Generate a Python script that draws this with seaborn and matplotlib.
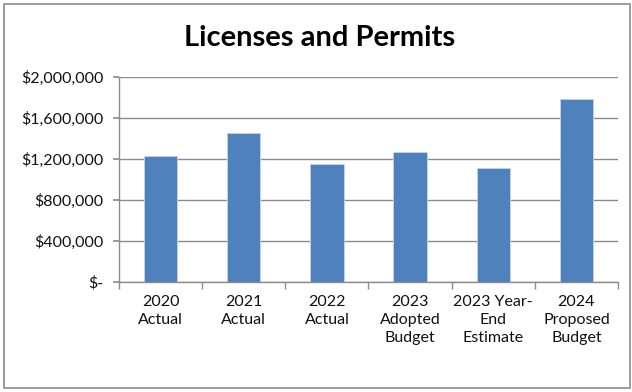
import matplotlib
matplotlib.use("Agg")
import matplotlib.pyplot as plt
import matplotlib.ticker as mticker
from matplotlib.patches import Rectangle
import seaborn as sns
import pandas as pd

categories = ["2020\nActual", "2021\nActual", "2022\nActual", "2023\nAdopted\nBudget",
              "2023 Year-\nEnd\nEstimate", "2024\nProposed\nBudget"]
values = [1226000, 1457000, 1148000, 1272000, 1112000, 1785000]
title = "Licenses and Permits"

sns.set_theme(style="white")
plt.rcParams['font.family'] = ['Lato', 'DejaVu Sans']

df = pd.DataFrame({"cat": categories, "val": values})

fig = plt.figure(figsize=(6.32, 3.92), dpi=100)
ax = fig.add_axes([119/632, 1-282/392, (618-119)/632, (282-77)/392])

sns.barplot(data=df, x="cat", y="val", ax=ax, color="#4F81BD", width=0.4,
            saturation=1, edgecolor="#C6D4E8", linewidth=0.6)

ax.set_ylim(0, 2000000)
ax.set_xlim(-0.5, len(categories) - 0.5)
ax.yaxis.set_major_locator(mticker.MultipleLocator(400000))
ax.yaxis.set_major_formatter(mticker.FuncFormatter(
    lambda v, p: "$-" if v == 0 else "${:,.0f}".format(v)))
ax.grid(axis="y", color="#8C8C8C", linewidth=1)
ax.set_axisbelow(True)
ax.set_xlabel("")
ax.set_ylabel("")

for s in ["top", "right"]:
    ax.spines[s].set_visible(False)
for s in ["left", "bottom"]:
    ax.spines[s].set_color("#8C8C8C")
    ax.spines[s].set_linewidth(1)

ax.tick_params(axis="y", which="major", left=True, length=4, color="#8C8C8C",
               labelsize=11.5, labelcolor="#111111", pad=7)
ax.tick_params(axis="x", which="major", bottom=False, length=0,
               labelsize=11.5, labelcolor="#111111", pad=9)
ax.set_xticks(range(len(categories)))
ax.set_xticklabels(categories, linespacing=1.4)
ax.xaxis.set_minor_locator(mticker.FixedLocator([i - 0.5 for i in range(len(categories) + 1)]))
ax.tick_params(axis="x", which="minor", bottom=True, length=5, color="#8C8C8C", width=1)

fig.text(0.505, 1-38/392, title, ha="center", va="center", fontsize=21,
         fontweight="bold", color="black")

fig.patches.append(Rectangle((4/632, 1-388/392), 626/632, 384/392, transform=fig.transFigure,
                             fill=False, edgecolor="#8C8C8C", linewidth=1.2))

fig.savefig("out.png", dpi=100)
